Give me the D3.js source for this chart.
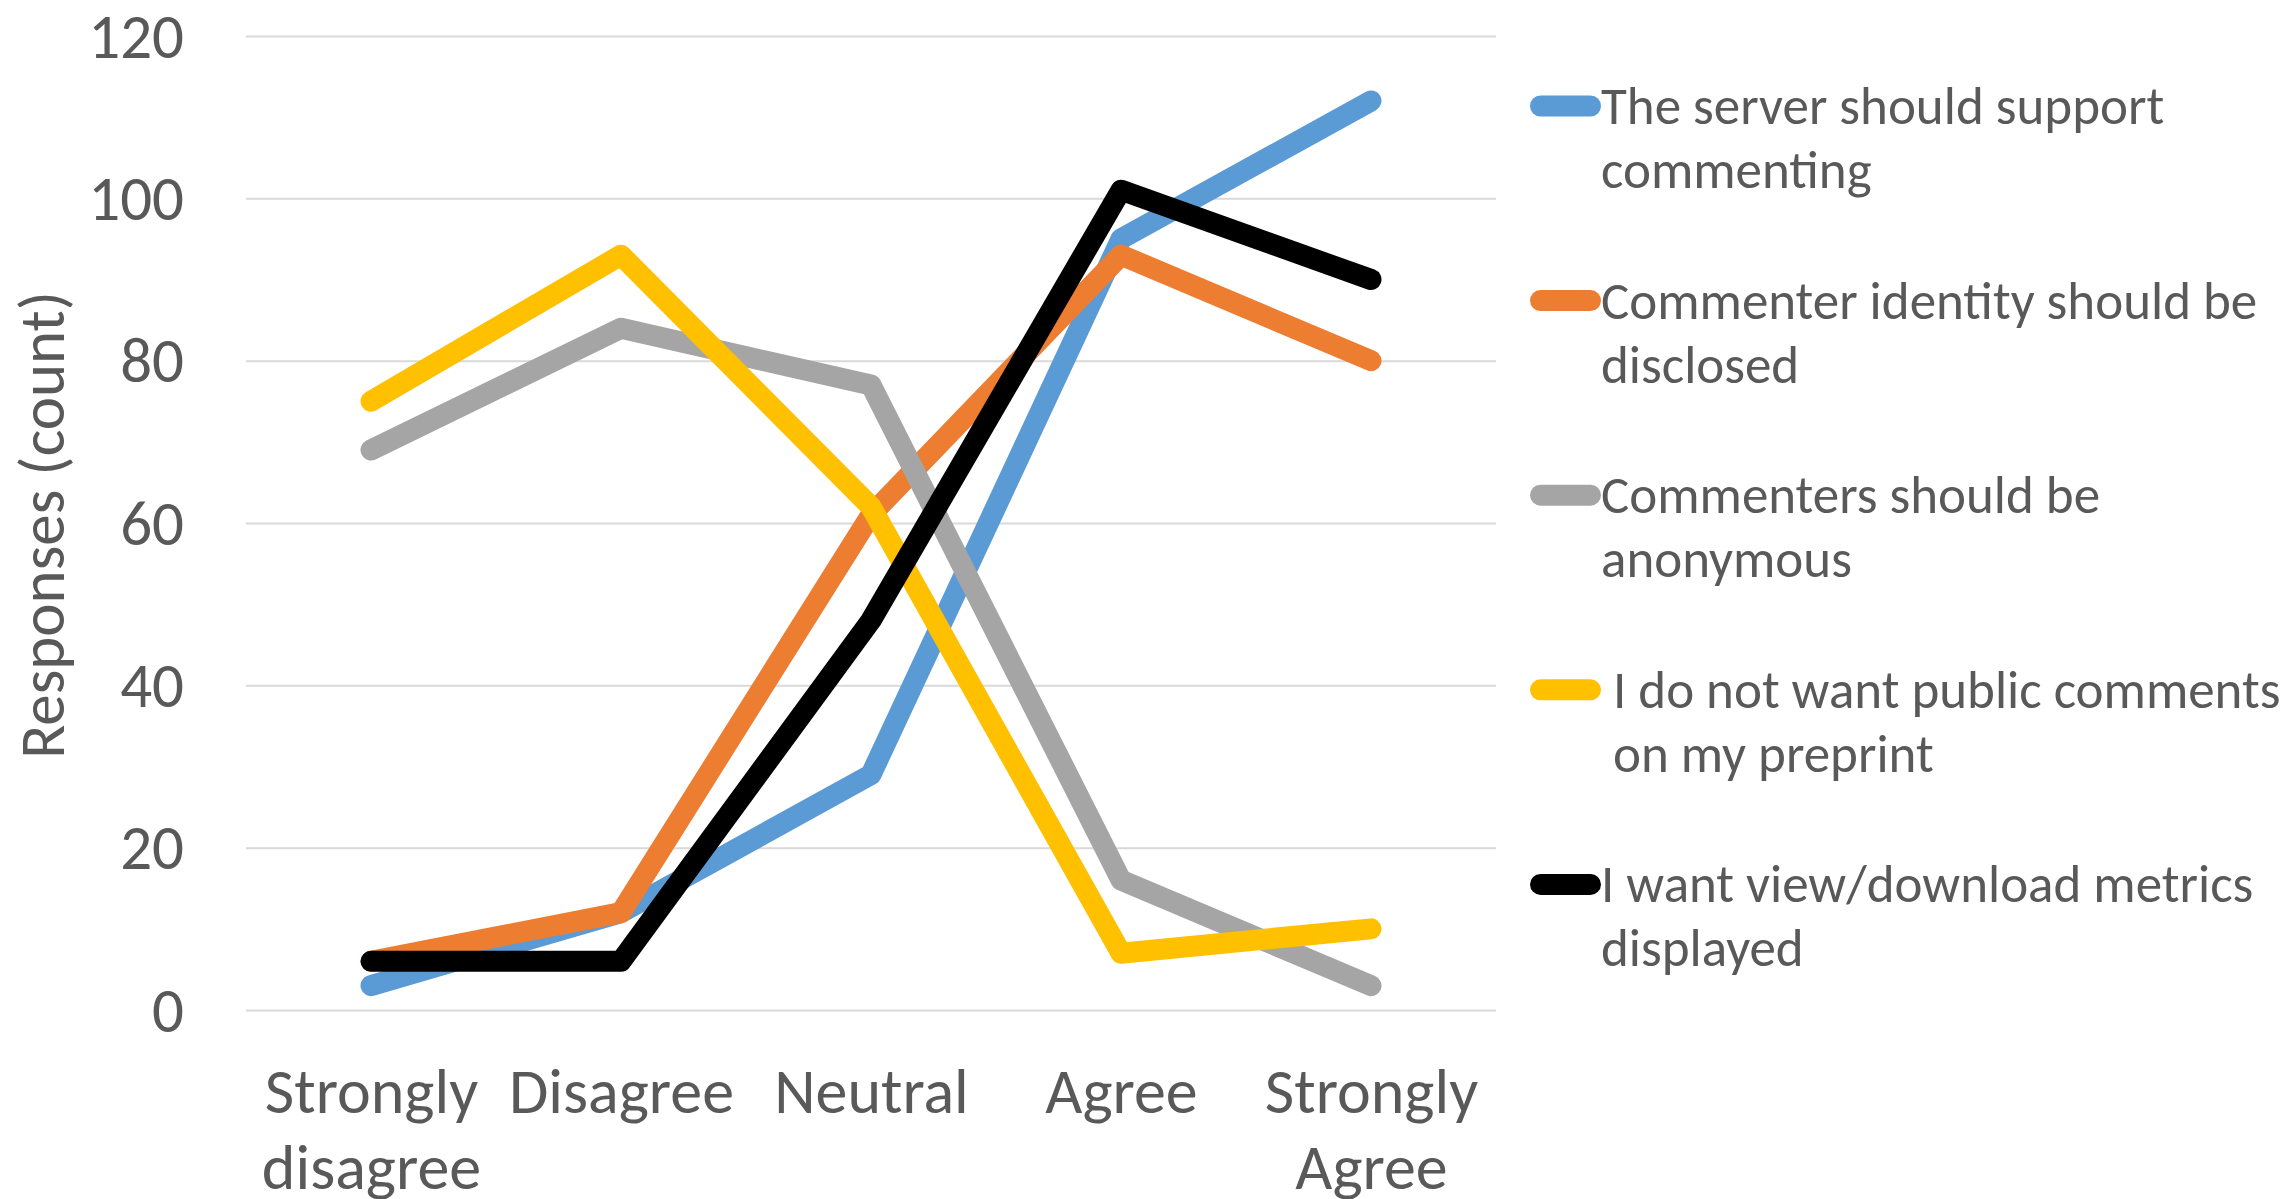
<!DOCTYPE html>
<html>
<head>
<meta charset="utf-8">
<script src="https://cdn.jsdelivr.net/npm/d3@7"></script>
<style>
  html, body { margin: 0; padding: 0; background: #ffffff; }
  svg { display: block; }
  text { font-family: Calibri, Carlito, Lato, "Open Sans", sans-serif; fill: #595959; }
</style>
</head>
<body>
<svg id="chart" width="2295" height="1199"></svg>
<script>
// Survey answers on the agreement scale
const categories = ["Strongly disagree", "Disagree", "Neutral", "Agree", "Strongly Agree"];

const seriesNames = [
  "The server should support commenting",
  "Commenter identity should be disclosed",
  "Commenters should be anonymous",
  " I do not want public comments on my preprint",
  "I want view/download metrics displayed"
];

// Legend text broken into the lines it is shown on
const legendLines = [
  ["The server should support", "commenting"],
  ["Commenter identity should be", "disclosed"],
  ["Commenters should be", "anonymous"],
  [" I do not want public comments", " on my preprint"],
  ["I want view/download metrics", "displayed"]
];

const serverSupport   = [3, 12, 29, 95, 112];
const identityShown   = [6, 12, 61, 93, 80];
const anonymous       = [69, 84, 77, 16, 3];
const noPublicComment = [75, 93, 62, 7, 10];
const metricsShown    = [6, 6, 48, 101, 90];

const seriesValues = [serverSupport, identityShown, anonymous, noPublicComment, metricsShown];
const seriesColors = ["#5B9BD5", "#ED7D31", "#A5A5A5", "#FFC000", "#000000"];

const yTicks = [0, 20, 40, 60, 80, 100, 120];
const yTitle = "Responses (count)";

const svg = d3.select("#chart");

const plot = { left: 246, right: 1496, top: 36, bottom: 1010 };

const x = d3.scalePoint()
  .domain(categories)
  .range([plot.left, plot.right])
  .padding(0.5);

const y = d3.scaleLinear()
  .domain([0, 120])
  .range([plot.bottom, plot.top]);

// Horizontal gridlines
svg.append("g")
  .attr("transform", `translate(${plot.left},0)`)
  .call(d3.axisLeft(y).tickValues(yTicks).tickSize(-(plot.right - plot.left)).tickFormat(""))
  .call(g => g.select(".domain").remove())
  .call(g => g.selectAll(".tick line").attr("stroke", "#D9D9D9").attr("stroke-width", 2));

// Value labels on the left
svg.append("g")
  .attr("transform", `translate(184,0)`)
  .call(d3.axisLeft(y).tickValues(yTicks).tickSize(0).tickPadding(0))
  .call(g => g.select(".domain").remove())
  .call(g => g.selectAll(".tick text")
    .attr("x", 0)
    .attr("dy", null)
    .attr("y", 21)
    .attr("text-anchor", "end")
    .style("font-size", "63px")
    .style("fill", "#595959"));

// Category labels along the bottom, one word per line
svg.append("g")
  .attr("transform", `translate(0,${plot.bottom})`)
  .call(d3.axisBottom(x).tickSize(0).tickFormat(""))
  .call(g => g.select(".domain").remove())
  .call(g => g.selectAll(".tick").each(function(d) {
    const t = d3.select(this).append("text")
      .attr("text-anchor", "middle")
      .style("font-size", "64px")
      .style("fill", "#595959");
    d.split(" ").forEach((w, i) => {
      t.append("tspan").attr("x", 0).attr("y", 103 + i * 76).text(w);
    });
  }));

// Axis title
svg.append("text")
  .attr("transform", "translate(64,525) rotate(-90)")
  .attr("text-anchor", "middle")
  .style("font-size", "63px")
  .text(yTitle);

// Series lines, later series drawn on top
const line = d3.line()
  .x((d, i) => x(categories[i]))
  .y(d => y(d));

svg.append("g")
  .selectAll("path")
  .data(seriesValues)
  .join("path")
  .attr("d", d => line(d))
  .attr("fill", "none")
  .attr("stroke", (d, i) => seriesColors[i])
  .attr("stroke-width", 21)
  .attr("stroke-linecap", "round")
  .attr("stroke-linejoin", "round");

// Legend
const legend = svg.append("g");
const legendItems = legend.selectAll("g")
  .data(seriesNames)
  .join("g")
  .attr("transform", (d, i) => `translate(1530,${106 + i * 194.6})`);

legendItems.append("line")
  .attr("x1", 10.5).attr("x2", 60.5)
  .attr("y1", 0).attr("y2", 0)
  .attr("stroke", (d, i) => seriesColors[i])
  .attr("stroke-width", 21)
  .attr("stroke-linecap", "round");

legendItems.append("text")
  .attr("xml:space", "preserve")
  .style("white-space", "pre")
  .style("font-size", "53px")
  .each(function(d, i) {
    const t = d3.select(this);
    legendLines[i].forEach((ln, j) => {
      t.append("tspan").attr("x", 71).attr("y", 18 + j * 64).text(ln);
    });
  });
</script>
</body>
</html>
